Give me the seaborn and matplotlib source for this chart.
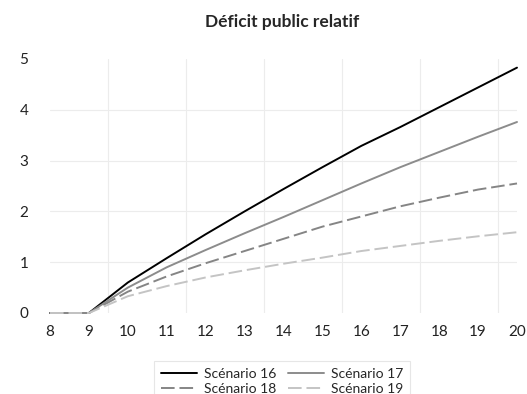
import numpy as np
import pandas as pd
import matplotlib
matplotlib.use("Agg")
import matplotlib.pyplot as plt
import seaborn as sns

# données
annees = [8, 9, 10, 11, 12, 13, 14, 15, 16, 17, 18, 19, 20]
scen16 = [0, 0, 0.60, 1.08, 1.55, 2.00, 2.44, 2.87, 3.29, 3.66, 4.05, 4.44, 4.83]
scen17 = [0, 0, 0.50, 0.90, 1.24, 1.57, 1.89, 2.22, 2.55, 2.87, 3.17, 3.47, 3.76]
scen18 = [0, 0, 0.42, 0.72, 0.98, 1.22, 1.46, 1.70, 1.90, 2.10, 2.27, 2.43, 2.55]
scen19 = [0, 0, 0.33, 0.53, 0.70, 0.84, 0.97, 1.09, 1.22, 1.32, 1.42, 1.51, 1.59]
noms = ["Scénario 16", "Scénario 17", "Scénario 18", "Scénario 19"]

sns.set_style("white")
plt.rcParams['font.family'] = ['Lato', 'DejaVu Sans']

styles = {
    "Scénario 16": dict(color="#000000", dashes=None),
    "Scénario 17": dict(color="#8c8c8c", dashes=None),
    "Scénario 18": dict(color="#858585", dashes=(7, 2.5)),
    "Scénario 19": dict(color="#c4c4c4", dashes=(7, 2.5)),
}

fig = plt.figure(figsize=(5.27, 3.94), dpi=100)
ax = fig.add_axes([50/527, 1-313/394, 467/527, 254/394])

for nom, vals in zip(noms, [scen16, scen17, scen18, scen19]):
    df = pd.DataFrame({"x": annees, "y": vals})
    st = styles[nom]
    sns.lineplot(data=df, x="x", y="y", ax=ax, color=st["color"], lw=1.4, label=nom)
    l = ax.lines[-1]
    l.set_clip_on(False)
    if st["dashes"]:
        l.set_dashes(st["dashes"])

ax.set_xlim(8, 20)
ax.set_ylim(0, 5)
ax.set_xticks(annees)
ax.set_yticks([0, 1, 2, 3, 4, 5])
ax.set_xticks(np.arange(9.5, 20, 2), minor=True)
ax.grid(False)
# grille horizontale seulement de 1 à 4
for yv in [1, 2, 3, 4]:
    ax.axhline(yv, color="#ececec", lw=0.8, zorder=0)
ax.grid(axis="x", which="minor", color="#ececec", lw=0.8)
ax.tick_params(axis="x", which="both", length=0, pad=9, labelsize=11, colors="#222222")
ax.tick_params(axis="y", length=0, pad=22, labelsize=11, colors="#222222")
for lbl in ax.get_yticklabels():
    lbl.set_horizontalalignment("left")
for s in ax.spines.values():
    s.set_visible(False)
ax.set_xlabel("")
ax.set_ylabel("")
ax.set_axisbelow(True)

fig.suptitle("Déficit public relatif", x=0.535, y=0.965, fontsize=12.5, fontweight="bold")

handles, labels = ax.get_legend_handles_labels()
ax.legend_.remove()
ordre = [0, 2, 1, 3]  # remplissage par ligne comme l'original
leg = fig.legend([handles[i] for i in ordre], [labels[i] for i in ordre],
                 loc="upper center", bbox_to_anchor=(0.535, 0.102), ncol=2,
                 fontsize=10, frameon=True, fancybox=False, edgecolor="#e0e0e0",
                 handlelength=2.6, columnspacing=0.8, labelspacing=0.25,
                 borderpad=0.5, handletextpad=0.5)
leg.get_frame().set_linewidth(0.8)

fig.savefig("out.png", dpi=100)
